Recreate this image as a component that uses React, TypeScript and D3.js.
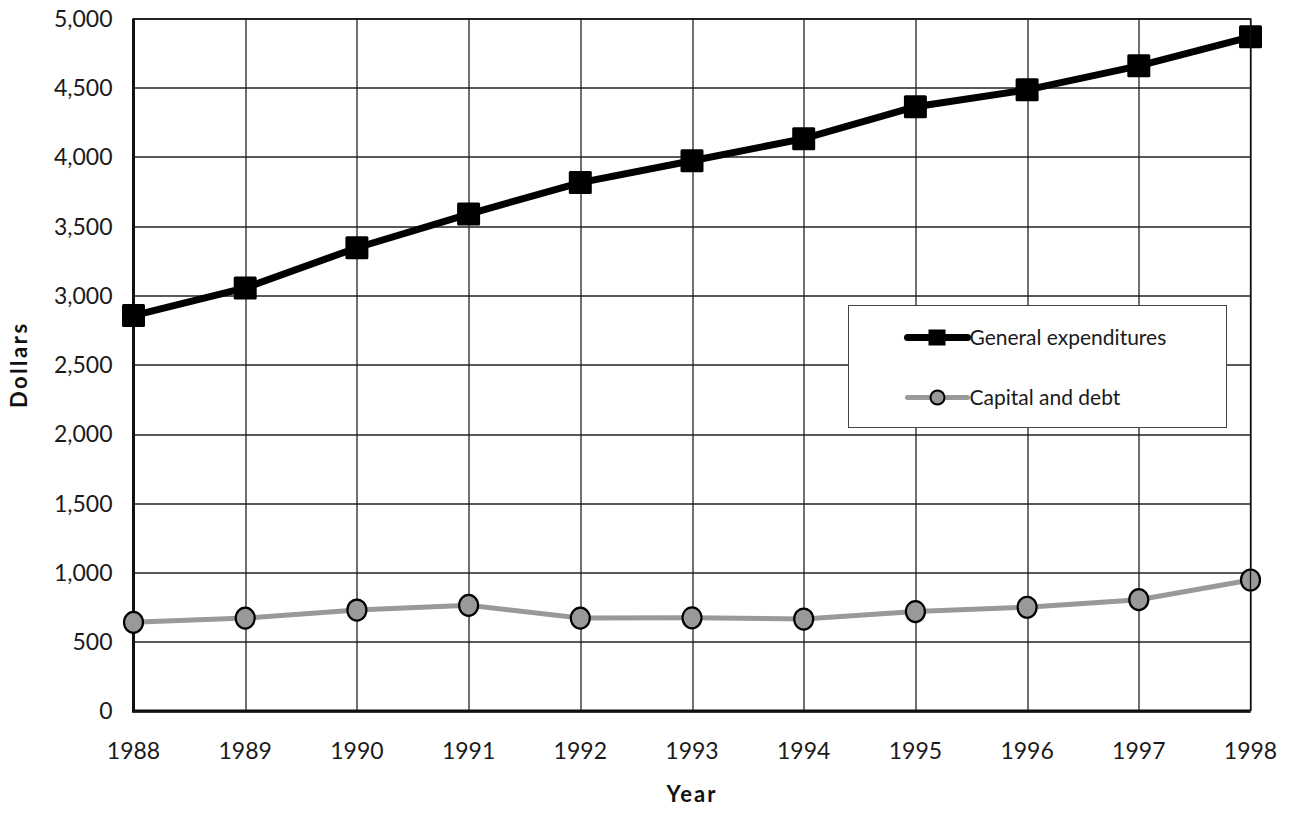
import React, { useEffect, useRef } from "react";
import * as d3 from "d3";

const years = [1988, 1989, 1990, 1991, 1992, 1993, 1994, 1995, 1996, 1997, 1998];
const generalExpenditures = [2855, 3055, 3345, 3588, 3815, 3973, 4132, 4363, 4485, 4658, 4868];
const capitalAndDebt = [640, 671, 729, 763, 671, 673, 664, 718, 749, 804, 946];
const yTicks = [0, 500, 1000, 1500, 2000, 2500, 3000, 3500, 4000, 4500, 5000];

const FONT = "Lato, 'Open Sans', sans-serif";

const Chart = ({ width = 1299, height = 814 }) => {
  const ref = useRef<SVGSVGElement>(null);

  const margin = { top: 18.5, left: 133.5, right: 48.5, bottom: 103 };
  const iwidth = width - margin.left - margin.right;
  const iheight = height - margin.top - margin.bottom;

  useEffect(() => {
    const svg = d3.select(ref.current);
    svg.selectAll("*").remove();

    const g = svg.append("g").attr("transform", `translate(${margin.left},${margin.top})`);

    const x = d3.scaleLinear().domain([1988, 1998]).range([0, iwidth]);
    const y = d3.scaleLinear().domain([0, 5000]).range([iheight, 0]);

    // grid
    g.append("g")
      .selectAll("line")
      .data(yTicks)
      .join("line")
      .attr("x1", 0)
      .attr("x2", iwidth)
      .attr("y1", d => Math.round(y(d)) + 0.5)
      .attr("y2", d => Math.round(y(d)) + 0.5)
      .attr("stroke", "#222")
      .attr("stroke-width", 1.3);
    g.append("g")
      .selectAll("line")
      .data(years)
      .join("line")
      .attr("x1", d => Math.round(x(d)) + 0.5)
      .attr("x2", d => Math.round(x(d)) + 0.5)
      .attr("y1", 0)
      .attr("y2", iheight)
      .attr("stroke", "#222")
      .attr("stroke-width", 1.3);

    // axes lines
    g.append("line")
      .attr("x1", 0).attr("x2", 0).attr("y1", 0).attr("y2", iheight + 1.5)
      .attr("stroke", "#111").attr("stroke-width", 3);
    g.append("line")
      .attr("x1", -1.5).attr("x2", iwidth).attr("y1", iheight).attr("y2", iheight)
      .attr("stroke", "#111").attr("stroke-width", 3);

    // tick labels
    g.append("g")
      .selectAll("text")
      .data(yTicks)
      .join("text")
      .attr("x", -21)
      .attr("y", d => y(d))
      .attr("dy", "0.36em")
      .attr("text-anchor", "end")
      .attr("font-family", FONT)
      .attr("font-size", 23)
      .attr("fill", "#1a1a1a")
      .text(d => d3.format(",")(d));
    g.append("g")
      .selectAll("text")
      .data(years)
      .join("text")
      .attr("x", d => x(d))
      .attr("y", iheight + 48)
      .attr("text-anchor", "middle")
      .attr("font-family", FONT)
      .attr("font-size", 23)
      .attr("fill", "#1a1a1a")
      .text(d => d);

    // axis titles
    g.append("text")
      .attr("x", iwidth / 2)
      .attr("y", iheight + 91)
      .attr("text-anchor", "middle")
      .attr("font-family", FONT)
      .attr("font-weight", "bold")
      .attr("font-size", 22)
      .attr("letter-spacing", 2)
      .attr("fill", "#111")
      .text("Year");
    g.append("text")
      .attr("transform", `translate(${-107},${iheight / 2}) rotate(-90)`)
      .attr("text-anchor", "middle")
      .attr("font-family", FONT)
      .attr("font-weight", "bold")
      .attr("font-size", 22)
      .attr("letter-spacing", 2.5)
      .attr("fill", "#111")
      .text("Dollars");

    const line = d3.line<number>().x((d, i) => x(years[i])).y(d => y(d));

    // capital and debt
    g.append("path")
      .attr("d", line(capitalAndDebt))
      .attr("fill", "none")
      .attr("stroke", "#999")
      .attr("stroke-width", 5);
    g.append("g")
      .selectAll("ellipse")
      .data(capitalAndDebt)
      .join("ellipse")
      .attr("cx", (d, i) => x(years[i]))
      .attr("cy", d => y(d))
      .attr("rx", 9.5)
      .attr("ry", 10.5)
      .attr("fill", "#999")
      .attr("stroke", "#000")
      .attr("stroke-width", 2.2);

    // general expenditures
    g.append("path")
      .attr("d", line(generalExpenditures))
      .attr("fill", "none")
      .attr("stroke", "#000")
      .attr("stroke-width", 7);
    g.append("g")
      .selectAll("rect")
      .data(generalExpenditures)
      .join("rect")
      .attr("x", (d, i) => x(years[i]) - 11.5)
      .attr("y", d => y(d) - 11.5)
      .attr("width", 23)
      .attr("height", 23)
      .attr("rx", 1.5)
      .attr("fill", "#000");

    // legend
    const lg = svg.append("g").attr("transform", "translate(848.5,305.5)");
    lg.append("rect")
      .attr("width", 378)
      .attr("height", 122)
      .attr("fill", "#fff")
      .attr("stroke", "#444")
      .attr("stroke-width", 1);
    const items = [
      { name: "General expenditures", kind: "square", cy: 32 },
      { name: "Capital and debt", kind: "circle", cy: 92 },
    ];
    items.forEach(it => {
      if (it.kind === "square") {
        lg.append("line")
          .attr("x1", 59).attr("x2", 119).attr("y1", it.cy).attr("y2", it.cy)
          .attr("stroke", "#000").attr("stroke-width", 7).attr("stroke-linecap", "round");
        lg.append("rect")
          .attr("x", 80).attr("y", it.cy - 8).attr("width", 17).attr("height", 16)
          .attr("fill", "#000");
      } else {
        lg.append("line")
          .attr("x1", 59).attr("x2", 119).attr("y1", it.cy).attr("y2", it.cy)
          .attr("stroke", "#999").attr("stroke-width", 5).attr("stroke-linecap", "round");
        lg.append("circle")
          .attr("cx", 89).attr("cy", it.cy).attr("r", 7)
          .attr("fill", "#999").attr("stroke", "#000").attr("stroke-width", 2);
      }
      lg.append("text")
        .attr("x", 121)
        .attr("y", it.cy)
        .attr("dy", "0.36em")
        .attr("font-family", FONT)
        .attr("font-size", 21)
        .attr("fill", "#1a1a1a")
        .text(it.name);
    });

    // top/right border
    g.append("path")
      .attr("d", `M0,0.5H${iwidth}V${iheight}`)
      .attr("fill", "none")
      .attr("stroke", "#111")
      .attr("stroke-width", 1.3);
  });

  return <svg ref={ref} width={width} height={height} style={{ display: "block" }} />;
};

export default function App() {
  return (
    <div style={{ margin: -8 }}>
      <Chart />
    </div>
  );
}
